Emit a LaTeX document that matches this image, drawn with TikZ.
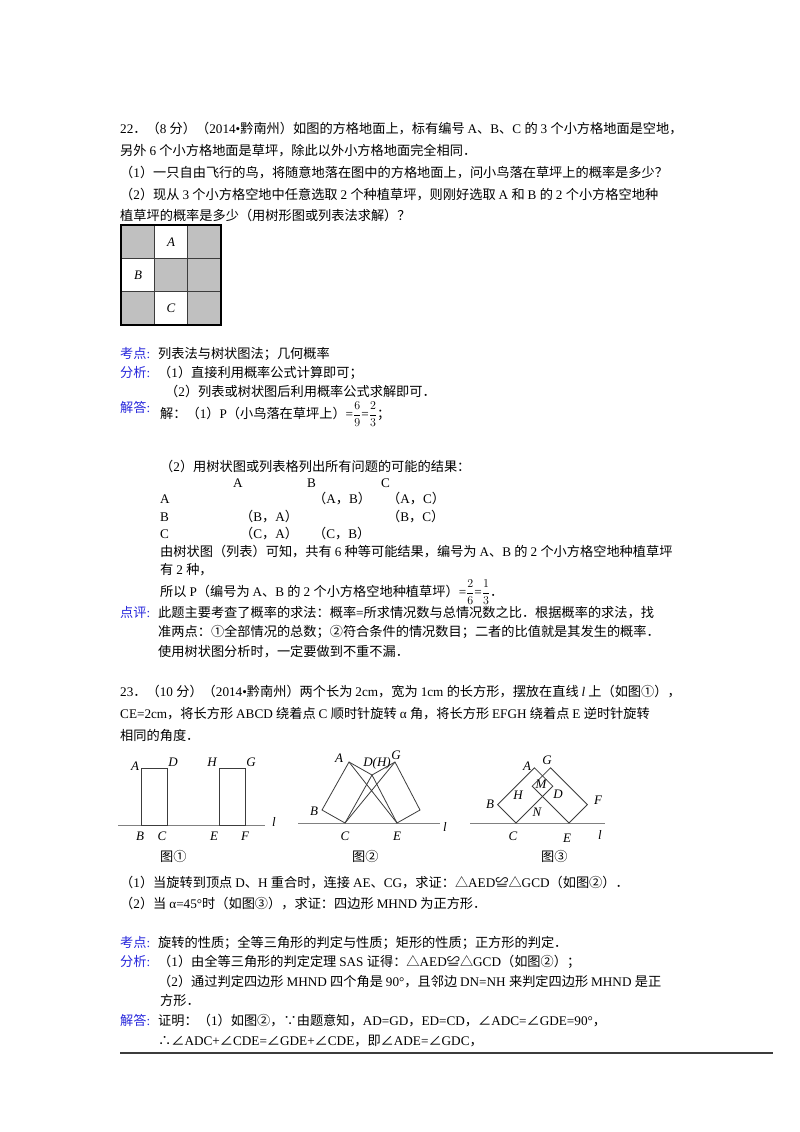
\documentclass[tikz,border=0pt]{standalone}
\usepackage{fontspec}
\setmainfont{Liberation Serif}
\newfontfamily\cjk{Noto Sans CJK SC}
\XeTeXinterchartokenstate=1
\newXeTeXintercharclass\cjkclass
\newcount\cc
\cc="3000 \loop \XeTeXcharclass\cc=\cjkclass \advance\cc1 \ifnum\cc<"A000 \repeat
\cc="FF00 \loop \XeTeXcharclass\cc=\cjkclass \advance\cc1 \ifnum\cc<"FF70 \repeat
\XeTeXcharclass"2460=\cjkclass \XeTeXcharclass"2461=\cjkclass \XeTeXcharclass"2462=\cjkclass
\XeTeXcharclass"2234=\cjkclass \XeTeXcharclass"2235=\cjkclass \XeTeXcharclass"2220=\cjkclass
\XeTeXcharclass"224C=\cjkclass \XeTeXcharclass"25B3=\cjkclass
\XeTeXinterchartoks 0 \cjkclass = {\cjk}
\XeTeXinterchartoks 4095 \cjkclass = {\cjk}
\XeTeXinterchartoks \cjkclass 0 = {\rmfamily}
\XeTeXinterchartoks 4095 0 = {\rmfamily}
\definecolor{lab}{RGB}{40,40,220}
\definecolor{grass}{RGB}{192,192,192}
\definecolor{ln}{RGB}{60,60,60}
\newcount\nc
\newcommand\tl[3]{\global\advance\nc1 \node[txt] (t\the\nc) at (#1,#2) {#3};}
\newcommand\lb[3]{\global\advance\nc1 \node[txt,text=lab] (t\the\nc) at (#1,#2) {#3};}
\newcommand\fl[3]{\global\advance\nc1 \node[flab] (t\the\nc) at (#1,#2) {#3};}
\newcommand\fr[2]{$\displaystyle\frac{#1}{#2}$}
\begin{document}
\begin{tikzpicture}[x=1pt,y=-1pt,
 txt/.style={anchor=base west,inner sep=0pt,font=\fontsize{13.2}{16}\selectfont},
 flab/.style={inner sep=0pt,font=\fontsize{13}{14}\selectfont\itshape},
 shp/.style={draw=ln,line width=0.8pt},
 gnd/.style={draw=gray,line width=1pt}]
\useasboundingbox[fill=white] (0,0) rectangle (800,1132);
\tl{120}{133}{22．（8 分）（2014•黔南州）如图的方格地面上，标有编号 A、B、C 的 3 个小方格地面是空地，}
\tl{120}{155}{另外 6 个小方格地面是草坪，除此以外小方格地面完全相同．}
\tl{120}{177}{（1）一只自由飞行的鸟，将随意地落在图中的方格地面上，问小鸟落在草坪上的概率是多少？}
\tl{120}{199}{（2）现从 3 个小方格空地中任意选取 2 个种植草坪，则刚好选取 A 和 B 的 2 个小方格空地种}
\tl{120}{220}{植草坪的概率是多少（用树形图或列表法求解）？}
% grid
\foreach \r/\c in {0/0,0/2,1/1,1/2,2/0,2/2}{\fill[grass] ({121+33.33*\c},{225+33.33*\r}) rectangle ++(33.33,33.33);}
\foreach \i in {0,1,2,3}{\draw[ln,line width=0.6pt] ({121+33.33*\i},225) -- ({121+33.33*\i},325);
 \draw[ln,line width=0.6pt] (121,{225+33.33*\i}) -- (221,{225+33.33*\i});}
\draw[black,line width=1.4pt] (121,225) rectangle (221,325);
\node[flab] (gA) at (171,242) {A};
\node[flab] (gB) at (138,275) {B};
\node[flab] (gC) at (171,308) {C};
\lb{120}{358}{考点:}\tl{158}{358}{列表法与树状图法；几何概率}
\lb{120}{377}{分析:}\tl{158}{377}{（1）直接利用概率公式计算即可；}
\tl{165}{396}{（2）列表或树状图后利用概率公式求解即可．}
\lb{120}{412}{解答:}\tl{160}{418}{解：（1）P（小鸟落在草坪上）=\fr{6}{9}=\fr{2}{3}；}
\tl{160}{471}{（2）用树状图或列表格列出所有问题的可能的结果：}
\tl{233}{487}{A}\tl{307}{487}{B}\tl{381}{487}{C}
\tl{160}{503}{A}\tl{313}{503}{（A，B）}\tl{387}{503}{（A，C）}
\tl{160}{521}{B}\tl{240}{521}{（B，A）}\tl{387}{521}{（B，C）}
\tl{160}{538}{C}\tl{240}{538}{（C，A）}\tl{313}{538}{（C，B）}
\tl{160}{556}{由树状图（列表）可知，共有 6 种等可能结果，编号为 A、B 的 2 个小方格空地种植草坪}
\tl{160}{574}{有 2 种，}
\tl{160}{596}{所以 P（编号为 A、B 的 2 个小方格空地种植草坪）=\fr{2}{6}=\fr{1}{3}．}
\lb{120}{617}{点评:}\tl{158}{617}{此题主要考查了概率的求法：概率=所求情况数与总情况数之比．根据概率的求法，找}
\tl{158}{636}{准两点：①全部情况的总数；②符合条件的情况数目；二者的比值就是其发生的概率．}
\tl{158}{656}{使用树状图分析时，一定要做到不重不漏．}
\tl{120}{696}{23．（10 分）（2014•黔南州）两个长为 2cm，宽为 1cm 的长方形，摆放在直线 {\rmfamily\itshape l} 上（如图①），}
\tl{120}{718}{CE=2cm，将长方形 ABCD 绕着点 C 顺时针旋转 α 角，将长方形 EFGH 绕着点 E 逆时针旋转}
\tl{120}{740}{相同的角度．}
% fig 1
\coordinate (g1a) at (118,825); \coordinate (g1b) at (265,825);
\draw[gnd] (g1a) -- (g1b);
\draw[shp] (141,825) rectangle (167,768);
\draw[shp] (219,825) rectangle (245,768);
\fl{135}{766}{A}\fl{173}{762}{D}\fl{212}{762}{H}\fl{251}{762}{G}
\fl{140}{836}{B}\fl{162}{836}{C}\fl{214}{836}{E}\fl{245}{836}{F}\fl{274}{822}{l}
\tl{160}{861}{图①}
% fig 2
\coordinate (g2a) at (298,823); \coordinate (g2b) at (440,823);
\draw[gnd] (g2a) -- (g2b);
\coordinate (C2) at (345,823); \coordinate (B2) at (322,810); \coordinate (D2) at (372,775); \coordinate (A2) at (349,762);
\coordinate (E2) at (397,823); \coordinate (F2) at (420,810); \coordinate (G2) at (395,762);
\draw[shp] (C2) -- (B2) -- (A2) -- (D2) -- cycle;
\draw[shp] (E2) -- (F2) -- (G2) -- (D2) -- cycle;
\draw[shp] (A2) -- (E2) (C2) -- (G2);
\fl{339}{758}{A}\fl{377}{763}{D(H)}\fl{396}{755}{G}\fl{314}{811}{B}\fl{345}{836}{C}\fl{397}{836}{E}\fl{445}{827}{l}
\tl{352}{861}{图②}
% fig 3
\coordinate (g3a) at (470,823); \coordinate (g3b) at (605,823);
\draw[gnd] (g3a) -- (g3b);
\coordinate (C3) at (516,823); \coordinate (B3) at (497.6,804.6); \coordinate (D3) at (552.8,786.2); \coordinate (A3) at (534.4,767.8);
\coordinate (E3) at (569,823); \coordinate (F3) at (587.4,804.6); \coordinate (H3) at (532.2,786.2); \coordinate (G3) at (550.6,767.8);
\draw[shp] (C3) -- (B3) -- (A3) -- (D3) -- cycle;
\draw[shp] (E3) -- (F3) -- (G3) -- (H3) -- cycle;
\fl{527}{766}{A}\fl{547}{760}{G}\fl{518}{795}{H}\fl{541}{784}{M}\fl{558}{794}{D}\fl{537}{812}{N}
\fl{490}{804}{B}\fl{598}{800}{F}\fl{513}{836}{C}\fl{567}{838}{E}\fl{600}{835}{l}
\tl{541}{861}{图③}
\tl{120}{887}{（1）当旋转到顶点 D、H 重合时，连接 AE、CG，求证：△AED≌△GCD（如图②）．}
\tl{120}{908}{（2）当 α=45°时（如图③），求证：四边形 MHND 为正方形．}
\lb{120}{947}{考点:}\tl{158}{947}{旋转的性质；全等三角形的判定与性质；矩形的性质；正方形的判定．}
\lb{120}{966}{分析:}\tl{158}{966}{（1）由全等三角形的判定定理 SAS 证得：△AED≌△GCD（如图②）；}
\tl{158}{986}{（2）通过判定四边形 MHND 四个角是 90°，且邻边 DN=NH 来判定四边形 MHND 是正}
\tl{160}{1005}{方形．}
\lb{120}{1025}{解答:}\tl{158}{1025}{证明：（1）如图②，∵由题意知，AD=GD，ED=CD，∠ADC=∠GDE=90°，}
\tl{158}{1045}{∴∠ADC+∠CDE=∠GDE+∠CDE，即∠ADE=∠GDC，}
\coordinate (r1) at (120,1053); \coordinate (r2) at (773,1053);
\draw[line width=1.2pt,ln] (r1) -- (r2);
\end{tikzpicture}
\end{document}
